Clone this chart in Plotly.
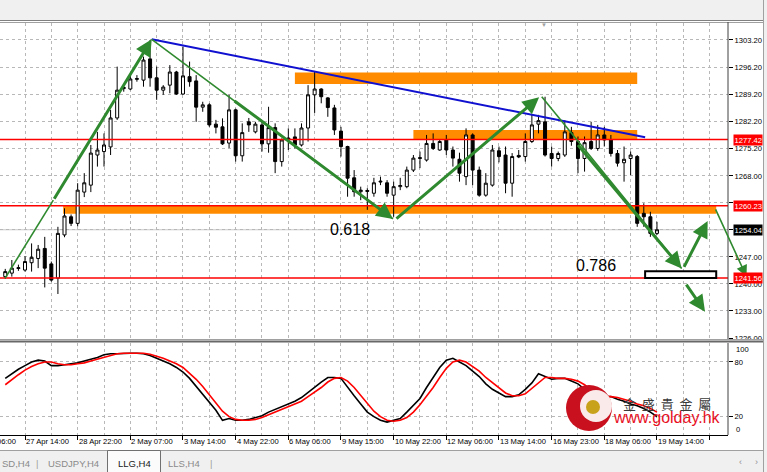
import plotly.graph_objects as go

# ---------------- data ----------------
bars = list(range(-3, 97))  # H4 bar index, 0 = 27 Apr 14:00

open_ = [1241.9, 1242.8, 1244.0, 1243.6, 1245.5, 1246.6, 1249.2, 1245.2, 1241.5, 1252.7,
         1257.4, 1255.7, 1263.8, 1265.6, 1273.4, 1274.3, 1275.5, 1283.0, 1290.6, 1290.5,
         1293.0, 1292.8, 1298.3, 1293.4, 1290.2, 1291.5, 1294.9, 1289.2, 1293.7, 1292.6,
         1285.8, 1286.4, 1281.4, 1280.7, 1276.5, 1285.1, 1273.2, 1282.0, 1279.4, 1281.2,
         1276.3, 1280.5, 1271.7, 1277.8, 1278.1, 1276.0, 1280.4, 1289.0, 1290.5, 1288.2,
         1285.6, 1279.6, 1275.6, 1267.5, 1263.9, 1264.2, 1263.5, 1266.4, 1266.2, 1263.0,
         1265.2, 1265.2, 1269.5, 1272.5, 1272.1, 1276.4, 1274.7, 1277.3, 1274.7, 1272.3,
         1267.8, 1278.6, 1269.5, 1263.0, 1265.6, 1274.5, 1273.4, 1266.1, 1273.3, 1273.0,
         1276.9, 1281.4, 1282.0, 1273.8, 1272.5, 1273.4, 1279.2, 1276.9, 1272.5, 1276.9,
         1275.1, 1278.6, 1277.3, 1273.8, 1271.4, 1272.5, 1273.0, 1258.3, 1257.4, 1253.1]
high = [1243.9, 1246.2, 1245.0, 1247.2, 1250.5, 1250.1, 1252.2, 1245.8, 1254.8, 1259.6,
        1258.0, 1266.1, 1268.7, 1276.0, 1279.4, 1279.0, 1285.1, 1296.3, 1291.5, 1294.1,
        1294.1, 1298.9, 1303.2, 1296.3, 1291.5, 1296.7, 1295.2, 1301.5, 1297.6, 1294.1,
        1287.2, 1286.8, 1282.5, 1282.9, 1289.0, 1285.4, 1281.6, 1283.0, 1282.0, 1282.0,
        1285.9, 1281.6, 1277.7, 1280.3, 1280.3, 1281.6, 1291.5, 1295.0, 1290.7, 1288.4,
        1286.4, 1280.7, 1275.8, 1269.5, 1265.2, 1264.8, 1267.5, 1267.8, 1266.9, 1266.5,
        1267.5, 1270.4, 1273.4, 1274.3, 1278.6, 1279.0, 1277.5, 1278.6, 1275.6, 1274.0,
        1280.3, 1279.0, 1270.4, 1268.7, 1276.0, 1275.6, 1275.6, 1273.9, 1274.7, 1279.0,
        1283.8, 1283.8, 1288.5, 1275.6, 1274.3, 1282.4, 1280.7, 1278.2, 1278.2, 1282.0,
        1281.2, 1280.7, 1278.6, 1274.7, 1275.6, 1274.3, 1273.4, 1260.9, 1258.7, 1256.1]
low = [1241.3, 1241.9, 1243.4, 1243.2, 1243.2, 1244.1, 1239.1, 1240.6, 1237.4, 1252.1,
       1255.0, 1254.9, 1262.5, 1263.8, 1270.4, 1270.4, 1273.4, 1282.5, 1289.8, 1290.2,
       1292.4, 1291.1, 1291.1, 1287.7, 1289.0, 1289.4, 1289.0, 1289.0, 1291.1, 1282.0,
       1284.6, 1280.7, 1279.0, 1276.0, 1275.2, 1271.7, 1271.7, 1279.4, 1279.0, 1274.3,
       1274.0, 1268.7, 1270.4, 1274.7, 1275.1, 1275.6, 1276.9, 1284.3, 1286.8, 1283.3,
       1278.6, 1273.0, 1262.6, 1262.6, 1261.7, 1259.2, 1262.6, 1265.6, 1262.6, 1257.4,
       1264.3, 1264.8, 1269.0, 1270.0, 1271.7, 1274.7, 1274.5, 1273.4, 1270.4, 1266.5,
       1265.6, 1265.6, 1262.6, 1262.6, 1265.2, 1271.5, 1263.5, 1262.6, 1272.6, 1271.7,
       1276.5, 1279.0, 1273.0, 1270.4, 1271.8, 1272.9, 1275.8, 1268.7, 1269.1, 1274.7,
       1274.5, 1275.6, 1273.0, 1270.4, 1266.5, 1268.2, 1254.8, 1254.8, 1252.2, 1252.7]
close = [1243.2, 1244.1, 1244.2, 1245.8, 1246.9, 1249.0, 1244.1, 1241.0, 1253.1, 1257.6,
         1255.7, 1264.3, 1266.2, 1273.9, 1274.7, 1276.0, 1283.0, 1290.2, 1290.9, 1293.1,
         1293.2, 1298.0, 1293.4, 1290.2, 1291.0, 1294.9, 1289.2, 1293.9, 1292.4, 1285.8,
         1286.4, 1281.2, 1280.6, 1276.3, 1285.1, 1273.2, 1279.2, 1281.2, 1281.4, 1276.3,
         1280.5, 1271.7, 1277.3, 1277.3, 1276.0, 1280.4, 1289.0, 1290.5, 1288.5, 1285.7,
         1279.9, 1275.6, 1267.4, 1263.9, 1264.3, 1264.0, 1266.2, 1266.6, 1263.5, 1265.2,
         1265.5, 1269.5, 1272.6, 1272.7, 1276.4, 1275.1, 1276.9, 1274.7, 1272.6, 1268.7,
         1278.6, 1269.5, 1263.0, 1266.1, 1274.7, 1273.0, 1266.1, 1273.0, 1272.9, 1276.9,
         1281.2, 1282.3, 1273.4, 1272.5, 1273.8, 1279.4, 1276.9, 1272.5, 1276.6, 1275.1,
         1278.6, 1277.3, 1273.8, 1271.3, 1272.3, 1273.4, 1255.7, 1257.4, 1253.1, 1254.04]

stoch_main = [62, 67, 72, 76, 80, 82, 81, 76, 76, 77,
              78, 79, 81, 83, 85, 88, 89, 89, 89.5, 89.5,
              89.5, 89, 87, 84, 81, 78, 74, 69, 62, 53,
              44, 36, 27, 16, 18, 16, 16, 17, 19, 21,
              25, 28, 31, 34, 37, 41, 47, 52, 58, 63,
              63, 62, 52, 43, 34, 25, 20, 16, 14, 16,
              18, 25, 33, 40, 52, 63, 74, 82, 84, 80,
              76, 70, 64, 56, 50, 46, 42, 42, 44, 50,
              57, 67, 64, 61, 62, 62, 59, 56, 50, 42,
              42, 42, 42, 39, 37, 34, 32, 29, 25, 20]
stoch_signal = [55, 61, 66, 71, 75, 78, 80, 80, 78, 77,
                77, 78, 79, 81, 83, 85, 87, 89, 89.5, 89.5,
                89.5, 89.5, 88.5, 86.5, 84, 81, 78, 74, 68, 61,
                53, 44, 36, 26, 20, 17, 16, 16, 17, 19,
                22, 25, 28, 31, 34, 37, 42, 47, 52, 58,
                62, 63, 59, 52, 43, 34, 26, 20, 16, 15,
                16, 19, 25, 33, 42, 52, 63, 73, 80, 82,
                80, 75, 70, 63, 57, 51, 46, 43, 43, 45,
                51, 57, 63, 63, 62, 62, 61, 59, 55, 49,
                45, 42, 42, 41, 39, 37, 34, 32, 29, 25]

price_ticks = [1303.2, 1296.2, 1289.2, 1282.2, 1275.2, 1268.0, 1261.0, 1254.0, 1247.0, 1240.0, 1233.0, 1226.0]
hidden_price_ticks = [1261.0, 1254.0]   # covered by the level markers
time_tick_bars = [-8, 0, 8, 16, 24, 32, 40, 48, 56, 64, 72, 80, 88, 96]
time_tick_labels = ["26 Apr 06:00", "27 Apr 14:00", "28 Apr 22:00", "2 May 07:00", "3 May 14:00",
                    "4 May 22:00", "6 May 06:00", "9 May 15:00", "10 May 22:00", "12 May 06:00",
                    "13 May 14:00", "16 May 23:00", "18 May 06:00", "19 May 14:00"]
stoch_levels = [80, 20]

red_levels = [1277.42, 1260.23, 1241.56]
bid_price = 1254.04

# zones: (bar_from, bar_to, price_low, price_high)
orange_zones = [(41.0, 93.0, 1291.8, 1294.8),
                (59.0, 93.0, 1277.42, 1279.9),
                (5.8, 105.0, 1258.2, 1260.23)]
target_box = (94.2, 105.0, 1241.56, 1243.3)

blue_trend = ((19.25, 1303.38), (94.2, 1278.0))
# green wave arrows: (tail, head)
thick_arrows = [((4.3, 1261.7), (19.25, 1303.38)),
                ((31.6, 1287.7), (55.9, 1256.83)),
                ((56.2, 1256.57), (78.1, 1288.36)),
                ((83.8, 1276.4), (99.75, 1244.0)),
                ((100.0, 1244.05), (103.7, 1256.3)),
                ((100.3, 1240.2), (103.3, 1232.8))]
thin_lines = [((-3.04, 1241.46), (4.3, 1261.7)),
              ((19.25, 1303.38), (55.9, 1256.83)),
              ((78.5, 1288.5), (99.75, 1244.0))]
thin_arrows = [((104.8, 1259.7), (109.6, 1241.9))]

fib_labels = [("0.618", 49.4, 1254.1), ("0.786", 86.7, 1244.8)]

tabs = ["SD,H4", "USDJPY,H4", "LLG,H4", "LLS,H4"]

# ---------------- geometry ----------------
W, H = 767, 472
PL, PR, PT, PB = 0, 728, 23, 435
X_RANGE = [-3.7977, 106.79]
Y_RANGE = [1225.74, 1307.60]
S_RANGE = [-0.1, 100.8]


def xp(px):
    return (px - PL) / (PR - PL)


def yp(py):
    return (PB - py) / (PB - PT)


GREEN = "#2f8a2f"
GRID = "#b8b8b8"
FONT = "Liberation Sans, Arial, sans-serif"
AX_SIZE = 7.6

fig = go.Figure()

fig.add_trace(go.Candlestick(
    x=bars, open=open_, high=high, low=low, close=close,
    increasing=dict(line=dict(color="black", width=1), fillcolor="white"),
    decreasing=dict(line=dict(color="black", width=1), fillcolor="black"),
    whiskerwidth=0, showlegend=False, hoverinfo="skip", xaxis="x", yaxis="y"))

fig.add_trace(go.Scatter(x=bars, y=stoch_main, mode="lines",
                         line=dict(color="black", width=1.6), xaxis="x", yaxis="y2",
                         showlegend=False, hoverinfo="skip"))
fig.add_trace(go.Scatter(x=bars, y=stoch_signal, mode="lines",
                         line=dict(color="#ff0000", width=1.6), xaxis="x", yaxis="y2",
                         showlegend=False, hoverinfo="skip"))

shapes = []
ann = []

# orange zones
for b0, b1, p0, p1 in orange_zones:
    shapes.append(dict(type="rect", xref="x", yref="y", x0=b0, x1=b1, y0=p0, y1=p1,
                       fillcolor="#ff8c00", line=dict(width=0), layer="between"))
# bid line
shapes.append(dict(type="line", xref="paper", yref="y", x0=0, x1=1, y0=bid_price, y1=bid_price,
                   line=dict(color="#c8c8c8", width=1), layer="between"))
# red levels
for lv in red_levels:
    shapes.append(dict(type="line", xref="paper", yref="y", x0=0, x1=1, y0=lv, y1=lv,
                       line=dict(color="#ff0000", width=1.5)))
# target box
b0, b1, p0, p1 = target_box
shapes.append(dict(type="rect", xref="x", yref="y", x0=b0, x1=b1, y0=p0, y1=p1,
                   fillcolor="white", line=dict(color="black", width=2)))
# blue trend
(bx0, by0), (bx1, by1) = blue_trend
shapes.append(dict(type="line", xref="x", yref="y", x0=bx0, y0=by0, x1=bx1, y1=by1,
                   line=dict(color="#1010d0", width=2)))
# thin green lines
for (tx, ty), (hx, hy) in thin_lines:
    shapes.append(dict(type="line", xref="x", yref="y", x0=tx, y0=ty, x1=hx, y1=hy,
                       line=dict(color=GREEN, width=1.6)))
# thick green arrows
for (tx, ty), (hx, hy) in thick_arrows:
    ann.append(dict(x=hx, y=hy, ax=tx, ay=ty, xref="x", yref="y", axref="x", ayref="y",
                    text="", showarrow=True, arrowhead=2, arrowsize=1.1, arrowwidth=3,
                    arrowcolor=GREEN))
for (tx, ty), (hx, hy) in thin_arrows:
    ann.append(dict(x=hx, y=hy, ax=tx, ay=ty, xref="x", yref="y", axref="x", ayref="y",
                    text="", showarrow=True, arrowhead=2, arrowsize=1.4, arrowwidth=1.6,
                    arrowcolor=GREEN))

for t, bx, py in fib_labels:
    ann.append(dict(x=bx, y=py, xref="x", yref="y", text=t, showarrow=False,
                    xanchor="center", yanchor="middle",
                    font=dict(family=FONT, size=16, color="black")))

# price-axis markers
for lv in red_levels:
    ann.append(dict(x=1, y=lv, xref="paper", yref="y", xanchor="left", yanchor="middle",
                    xshift=5, text=f"{lv:.2f}", showarrow=False, bgcolor="#ff0000",
                    borderpad=0.5, font=dict(family=FONT, size=AX_SIZE, color="white")))
ann.append(dict(x=1, y=bid_price, xref="paper", yref="y", xanchor="left", yanchor="middle",
                xshift=5, text=f"{bid_price:.2f}", showarrow=False, bgcolor="black",
                borderpad=0.5, font=dict(family=FONT, size=AX_SIZE, color="white")))

# stochastic 100/0 labels
ann.append(dict(x=1, y=yp(349), xref="paper", yref="paper", xanchor="left", yanchor="middle",
                xshift=6, text="100", showarrow=False, font=dict(family=FONT, size=AX_SIZE, color="black")))
ann.append(dict(x=1, y=yp(429.5), xref="paper", yref="paper", xanchor="left", yanchor="middle",
                xshift=6, text="0", showarrow=False, font=dict(family=FONT, size=AX_SIZE, color="black")))

# time labels, left aligned at their tick like MT4
for b, t in zip(time_tick_bars, time_tick_labels):
    xf = (b - X_RANGE[0]) / (X_RANGE[1] - X_RANGE[0])
    ann.append(dict(x=xf, y=yp(441.5), xref="paper", yref="paper", xanchor="left",
                    yanchor="middle", text=t, showarrow=False, xshift=-1,
                    font=dict(family=FONT, size=AX_SIZE, color="black")))

# ---------- window chrome ----------
shapes.append(dict(type="rect", xref="paper", yref="paper", x0=xp(-5), x1=xp(772), y0=yp(20), y1=yp(-5),
                   fillcolor="#f0f0f0", line=dict(width=0), layer="above"))
shapes.append(dict(type="line", xref="paper", yref="paper", x0=xp(0), x1=xp(763), y0=yp(20.5), y1=yp(20.5),
                   line=dict(color="#808080", width=1)))
shapes.append(dict(type="line", xref="paper", yref="paper", x0=xp(0), x1=xp(763), y0=yp(22.5), y1=yp(22.5),
                   line=dict(color="#a0a0a0", width=1)))
shapes.append(dict(type="line", xref="paper", yref="paper", x0=1, x1=1, y0=yp(435), y1=yp(22),
                   line=dict(color="#404040", width=1)))
shapes.append(dict(type="rect", xref="paper", yref="paper", x0=xp(0), x1=xp(763), y0=yp(343), y1=yp(339),
                   fillcolor="white", line=dict(width=0)))
shapes.append(dict(type="line", xref="paper", yref="paper", x0=xp(0), x1=xp(763), y0=yp(339.5), y1=yp(339.5),
                   line=dict(color="#a0a0a0", width=1)))
shapes.append(dict(type="line", xref="paper", yref="paper", x0=xp(0), x1=xp(763), y0=yp(341.5), y1=yp(341.5),
                   line=dict(color="#686868", width=2)))
shapes.append(dict(type="rect", xref="paper", yref="paper", x0=xp(763), x1=xp(772), y0=yp(477), y1=yp(-5),
                   fillcolor="#f0f0f0", line=dict(width=0)))
shapes.append(dict(type="line", xref="paper", yref="paper", x0=xp(763.5), x1=xp(763.5), y0=yp(472), y1=yp(0),
                   line=dict(color="#a0a0a0", width=1)))
shapes.append(dict(type="rect", xref="paper", yref="paper", x0=xp(-5), x1=xp(763), y0=yp(477), y1=yp(450),
                   fillcolor="#f0f0f0", line=dict(width=0)))
shapes.append(dict(type="line", xref="paper", yref="paper", x0=xp(0), x1=xp(763), y0=yp(450.5), y1=yp(450.5),
                   line=dict(color="#a0a0a0", width=1)))
shapes.append(dict(type="rect", xref="paper", yref="paper", x0=xp(107.5), x1=xp(160.5), y0=yp(474), y1=yp(450.5),
                   fillcolor="#fbfbfb", line=dict(color="#707070", width=1)))

tab_pos = [(0, "left"), (73, "center"), (134, "center"), (184, "center")]
for t, (cx, anc) in zip(tabs, tab_pos):
    ann.append(dict(x=xp(cx), y=yp(463), xref="paper", yref="paper", text=t, showarrow=False,
                    xanchor=anc, yanchor="middle",
                    font=dict(family=FONT, size=9.5, color="#1a1a1a" if t == "LLG,H4" else "#8a8a8a")))
for sx in [37, 211]:
    ann.append(dict(x=xp(sx), y=yp(463), xref="paper", yref="paper", text="|", showarrow=False,
                    xanchor="center", yanchor="middle", font=dict(family=FONT, size=9.5, color="#a0a0a0")))
for sx, s in [(740, "‹"), (756, "›")]:
    ann.append(dict(x=xp(sx), y=yp(462), xref="paper", yref="paper", text=s, showarrow=False,
                    xanchor="center", yanchor="middle", font=dict(family=FONT, size=9, color="#909090")))
ann.append(dict(x=xp(544), y=yp(24.5), xref="paper", yref="paper", text="▼", showarrow=False,
                xanchor="center", yanchor="middle", font=dict(family=FONT, size=6, color="#a0a0a0")))

# ---------- golday watermark ----------
shapes.append(dict(type="circle", xref="paper", yref="paper", x0=xp(566), x1=xp(612), y0=yp(431), y1=yp(385),
                   fillcolor="#c8101e", line=dict(width=0), layer="above"))
shapes.append(dict(type="circle", xref="paper", yref="paper", x0=xp(580), x1=xp(612), y0=yp(422), y1=yp(390),
                   fillcolor="#fbeaea", line=dict(width=0), layer="above"))
shapes.append(dict(type="circle", xref="paper", yref="paper", x0=xp(586), x1=xp(600), y0=yp(414), y1=yp(400),
                   fillcolor="#c9a21c", line=dict(width=0), layer="above"))
ann.append(dict(x=xp(667), y=yp(403.5), xref="paper", yref="paper", text="金  盛  貴  金  屬",
                showarrow=False, xanchor="center", yanchor="middle",
                font=dict(family="Noto Sans CJK TC", size=13, color="#3a3a3a")))
ann.append(dict(x=xp(667), y=yp(417.5), xref="paper", yref="paper", text="www.golday.hk",
                showarrow=False, xanchor="center", yanchor="middle",
                font=dict(family=FONT, size=16, color="#e8101e")))

fig.update_layout(
    width=W, height=H,
    margin=dict(l=PL, r=W - PR, t=PT, b=H - PB, pad=0),
    paper_bgcolor="white", plot_bgcolor="white",
    font=dict(family=FONT, size=8, color="black"),
    showlegend=False,
    boxgap=0.35,
    xaxis=dict(range=X_RANGE, domain=[0, 1], anchor="y2", showticklabels=False,
               rangeslider=dict(visible=False), tick0=0, dtick=8, ticks="outside", ticklen=4,
               tickcolor="black", showgrid=True, gridcolor=GRID, griddash="3px,3px", gridwidth=1,
               minor=dict(dtick=4, tick0=0, showgrid=True, gridcolor=GRID, griddash="3px,3px", ticklen=0),
               showline=True, linecolor="black", linewidth=1, zeroline=False, fixedrange=True),
    yaxis=dict(range=Y_RANGE, domain=[yp(339), 1], anchor="x", side="right",
               tickvals=price_ticks,
               ticktext=["" if v in hidden_price_ticks else f"{v:.2f}" for v in price_ticks],
               ticks="outside", ticklen=4, tickcolor="black", showgrid=True, gridcolor=GRID,
               griddash="3px,3px", zeroline=False, tickfont=dict(size=AX_SIZE), fixedrange=True),
    yaxis2=dict(range=S_RANGE, domain=[0, yp(343)], anchor="x", side="right",
                tickvals=stoch_levels, ticktext=[str(v) for v in stoch_levels],
                ticks="outside", ticklen=4, tickcolor="black", showgrid=True, gridcolor=GRID,
                griddash="3px,3px", zeroline=False, tickfont=dict(size=AX_SIZE), fixedrange=True),
    shapes=shapes,
    annotations=ann,
)

fig.write_html("out.html", config={"displayModeBar": False},
               post_script="document.body.style.margin='0';document.body.style.overflow='hidden';"
                           "document.documentElement.style.overflow='hidden';")
